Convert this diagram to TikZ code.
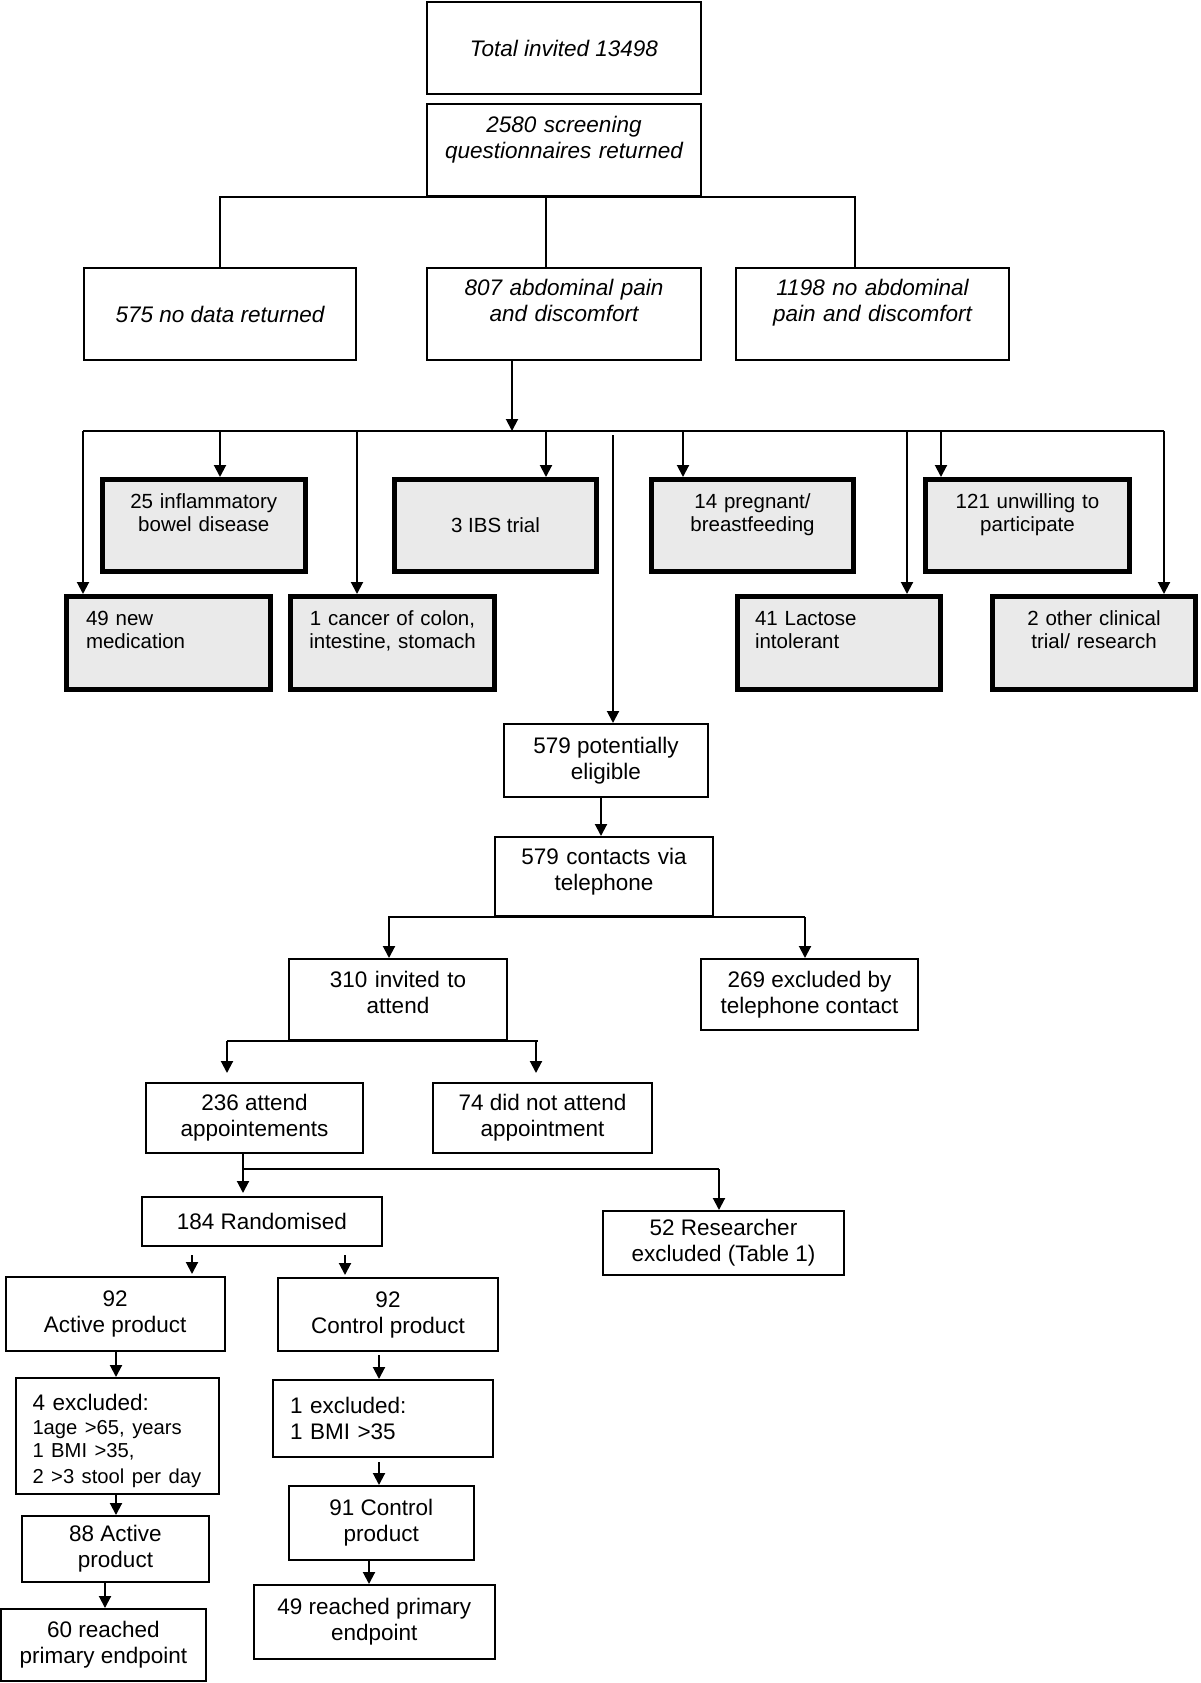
\documentclass[tikz,border=0pt]{standalone}
\usepackage{fontspec}
\setmainfont{Liberation Sans}
\usetikzlibrary{arrows.meta}
\definecolor{boxgray}{RGB}{234,234,234}
\begin{document}
\begin{tikzpicture}[x=1pt,y=-1pt,
  box/.style={draw, line width=2pt, inner sep=2pt, align=center, font=\fontsize{22.5}{26}\selectfont},
  topbox/.style={box, font=\fontsize{22.5}{26}\selectfont\itshape},
  graybox/.style={draw, line width=5pt, fill=boxgray, inner sep=2pt, align=center, font=\fontsize{20.5}{23}\selectfont},
  conn/.style={line width=2pt},
  arr/.style={line width=2pt, -{Triangle[width=12pt,length=12pt]}},
]
\path[fill=white] (0,0) rectangle (1200,1683);
\useasboundingbox (0,0) rectangle (1200,1683);

% top level
\node[topbox, minimum width=274pt, minimum height=92pt] (tot) at (564,48) {Total invited 13498};
\node[topbox, minimum width=274pt, minimum height=92pt, text width=255pt, text height=16.5pt, text depth=51.7pt] (scr) at (564,150) {2580 screening\\questionnaires returned};
\node[topbox, minimum width=272pt, minimum height=92pt] (nod) at (220,314) {575 no data returned};
\node[topbox, minimum width=274pt, minimum height=92pt, text width=255pt, text height=16.5pt, text depth=53.7pt] (abd) at (564,314) {807 abdominal pain\\and discomfort};
\node[topbox, minimum width=273pt, minimum height=92pt, text width=255pt, text height=16.5pt, text depth=53.7pt] (noa) at (872.5,314) {1198 no abdominal\\pain and discomfort};

% gray exclusion boxes
\node[graybox, minimum width=203.5pt, minimum height=92pt, text width=190pt, text height=15pt, text depth=49.3pt] (ibd) at (203.75,525.5) {25 inflammatory\\bowel disease};
\node[graybox, minimum width=202pt, minimum height=92pt] (ibs) at (495.5,525.5) {3 IBS trial};
\node[graybox, minimum width=202pt, minimum height=92pt, text width=190pt, text height=15pt, text depth=49.3pt] (prg) at (752.5,525.5) {14 pregnant/\\breastfeeding};
\node[graybox, minimum width=204pt, minimum height=92pt, text width=190pt, text height=15pt, text depth=49.3pt] (unw) at (1027.5,525.5) {121 unwilling to\\participate};
\node[graybox, align=left, minimum width=204pt, minimum height=93pt, text width=165pt, text height=15pt, text depth=50.3pt] (med) at (168.5,643) {49 new\\medication};
\node[graybox, minimum width=204pt, minimum height=93pt, text width=190pt, text height=15pt, text depth=50.3pt] (can) at (392.5,643) {1 cancer of colon,\\intestine, stomach};
\node[graybox, align=left, minimum width=203pt, minimum height=93pt, text width=168pt, text height=15pt, text depth=50.3pt] (lac) at (839,643) {41 Lactose\\intolerant};
\node[graybox, minimum width=203pt, minimum height=93pt, text width=190pt, text height=15pt, text depth=50.3pt] (oth) at (1094,643) {2 other clinical\\trial/ research};

% middle
\node[box, minimum width=204pt, minimum height=73pt] (pot) at (606,760.5) {579 potentially\\eligible};
\node[box, minimum width=218pt, minimum height=79pt, text width=200pt, text height=16.5pt, text depth=39.7pt] (tel) at (604,876.5) {579 contacts via\\telephone};
\node[box, minimum width=218pt, minimum height=81pt, text width=200pt, text height=16.5pt, text depth=39.7pt] (inv) at (398,999.5) {310 invited to\\attend};
\node[box, minimum width=217pt, minimum height=71pt] (exc) at (809.5,994.5) {269 excluded by\\telephone contact};
\node[box, minimum width=217pt, minimum height=70pt] (att) at (254.5,1118) {236 attend\\appointements};
\node[box, minimum width=219pt, minimum height=70pt] (dna) at (542.5,1118) {74 did not attend\\appointment};
\node[box, minimum width=240pt, minimum height=49pt] (rnd) at (262,1221.5) {184 Randomised};
\node[box, minimum width=241pt, minimum height=64pt] (res) at (723.5,1243) {52 Researcher\\excluded (Table 1)};

% arms
\node[box, minimum width=219.5pt, minimum height=74pt] (act) at (115.25,1314) {92\\Active product};
\node[box, minimum width=220pt, minimum height=73pt] (ctl) at (388,1314.5) {92\\Control product};
\node[box, align=left, minimum width=203pt, minimum height=115.5pt, text width=170pt, text height=24.5pt, text depth=75pt] (ex4) at (117.5,1435.75) {4 excluded:\par\fontsize{20.2}{23.5}\selectfont 1age >65, years\\1 BMI >35,\\2 >3 stool per day};
\node[box, align=left, minimum width=220pt, minimum height=77pt, text width=186pt] (ex1) at (383,1418.5) {1 excluded:\\1 BMI >35};
\node[box, minimum width=187pt, minimum height=66pt] (a88) at (115.5,1549) {88 Active\\product};
\node[box, minimum width=185.5pt, minimum height=74pt] (c91) at (381.25,1523) {91 Control\\product};
\node[box, minimum width=205pt, minimum height=72pt] (r60) at (103.5,1645) {60 reached\\primary endpoint};
\node[box, minimum width=240.5pt, minimum height=74pt] (r49) at (374.25,1622) {49 reached primary\\endpoint};

% connectors: top split
\coordinate (s2) at (546,197);
\coordinate (s3) at (855,197);
\draw[conn] (nod.north) -- (nod.north |- scr.south) -- (s3) -- (s3 |- noa.north);
\draw[conn] (s2) -- (s2 |- abd.north);

% exclusion bar
\coordinate (j1) at (512,431);
\coordinate (barL) at (83,431);
\coordinate (barR) at (1164,431);
\draw[arr] (j1 |- abd.south) -- (j1);
\draw[conn] (barL) -- (barR);
\coordinate (dmed) at (83,431);
\coordinate (dibd) at (220,431);
\coordinate (dcan) at (357,431);
\coordinate (dibs) at (546,431);
\coordinate (dprg) at (683,431);
\coordinate (dlac) at (907,431);
\coordinate (dunw) at (941,431);
\coordinate (doth) at (1164,431);
\draw[arr] (dmed) -- (dmed |- med.north);
\draw[arr] (dibd) -- (dibd |- ibd.north);
\draw[arr] (dcan) -- (dcan |- can.north);
\draw[arr] (dibs) -- (dibs |- ibs.north);
\draw[arr] (dprg) -- (dprg |- prg.north);
\draw[arr] (dlac) -- (dlac |- lac.north);
\draw[arr] (dunw) -- (dunw |- unw.north);
\draw[arr] (doth) -- (doth |- oth.north);

% potentially eligible
\coordinate (p0) at (613,435);
\draw[arr] (p0) -- (p0 |- pot.north);
\coordinate (p1) at (601,0);
\draw[arr] (p1 |- pot.south) -- (p1 |- tel.north);

% telephone split
\coordinate (t1) at (389,917);
\coordinate (t2) at (805,917);
\draw[conn] ([yshift=-3pt]t1) -- (t1) -- (t2);
\draw[arr] (t1) -- (t1 |- inv.north);
\draw[arr] (t2) -- (t2 |- exc.north);

% invited split
\coordinate (i1) at (227,1041);
\coordinate (i2) at (538,1041);
\coordinate (i3) at (536,1041);
\draw[conn] (i1) -- (i2);
\draw[arr, shorten >=9pt] (i1) -- (i1 |- att.north);
\draw[arr, shorten >=9pt] (i3) -- (i3 |- dna.north);

% attend split
\coordinate (a1) at (243,1169);
\coordinate (a2) at (719,1169);
\draw[conn] (a1 |- att.south) -- (a1) -- (a2);
\draw[arr, shorten >=3pt] (a1) -- (a1 |- rnd.north);
\draw[arr] (a2) -- (a2 |- res.north);

% randomised to arms
\coordinate (r1) at (192,1255);
\coordinate (r2) at (345,1255);
\draw[arr, shorten >=2pt] (r1) -- (r1 |- act.north);
\draw[arr, shorten >=2pt] (r2) -- (r2 |- ctl.north);

% active arm
\coordinate (ax) at (116,0);
\draw[arr] (ax |- act.south) -- (ax |- ex4.north);
\draw[arr] (ax |- ex4.south) -- (ax |- a88.north);
\coordinate (ay) at (105,0);
\draw[arr] (ay |- a88.south) -- (ay |- r60.north);

% control arm
\coordinate (cA) at (379,1355);
\draw[arr] (cA) -- (cA |- ex1.north);
\coordinate (cB) at (379,1462);
\draw[arr] (cB) -- (cB |- c91.north);
\coordinate (cC) at (369,0);
\draw[arr] (cC |- c91.south) -- (cC |- r49.north);
\end{tikzpicture}
\end{document}
